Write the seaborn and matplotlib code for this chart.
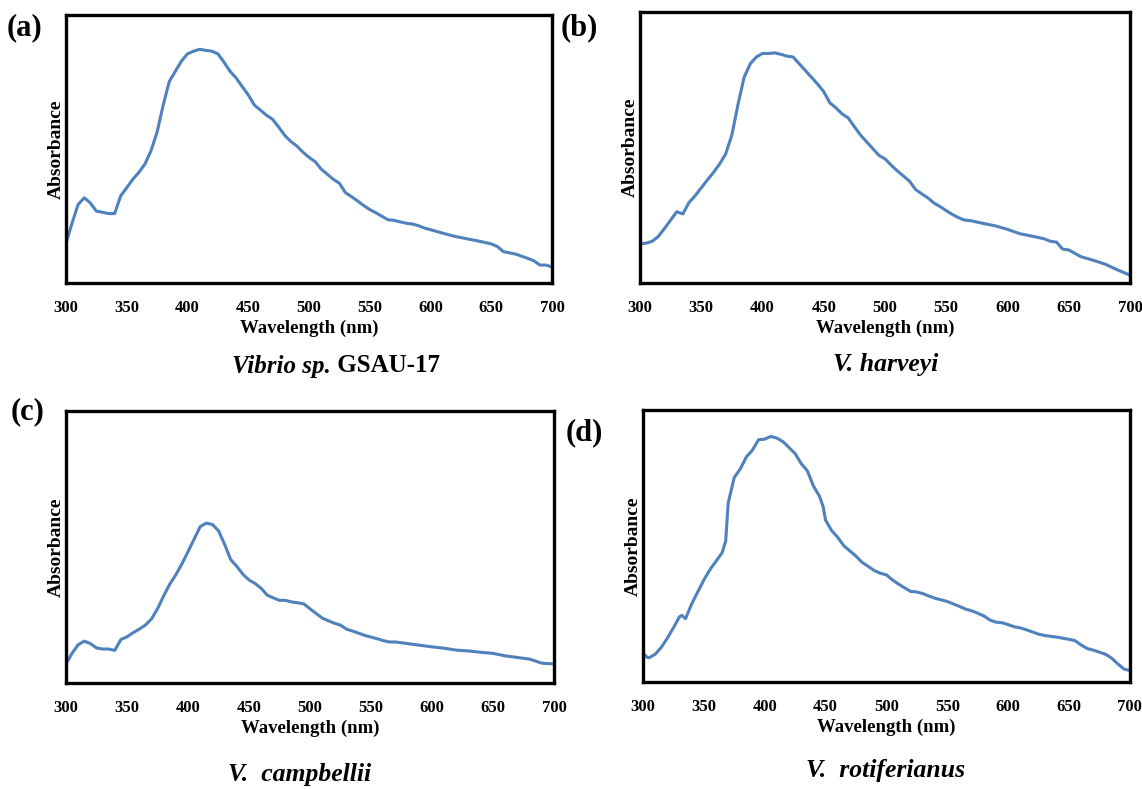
import numpy as np
import pandas as pd
import matplotlib
matplotlib.use("Agg")
import matplotlib.pyplot as plt
import seaborn as sns

# wavelengths (nm) and relative absorbance
wl_a = [300, 305, 310, 315, 320, 325, 330, 335, 340, 345, 350, 355, 360, 365, 370, 375, 380, 385, 390, 395,
        400, 405, 410, 415, 420, 425, 430, 435, 440, 445, 450, 455, 460, 465, 470, 475, 480, 485, 490, 495,
        500, 505, 510, 515, 520, 525, 530, 535, 540, 545, 550, 555, 560, 565, 570, 575, 580, 585, 590, 595,
        600, 610, 620, 630, 640, 650, 655, 660, 670, 680, 685, 690, 695, 700]
abs_a = [0.148, 0.224, 0.293, 0.318, 0.299, 0.268, 0.264, 0.259, 0.259, 0.325, 0.356, 0.387, 0.413, 0.444,
         0.494, 0.564, 0.664, 0.752, 0.790, 0.828, 0.855, 0.865, 0.872, 0.868, 0.865, 0.855, 0.824, 0.790,
         0.765, 0.733, 0.702, 0.664, 0.645, 0.626, 0.611, 0.582, 0.551, 0.528, 0.511, 0.488, 0.469, 0.453,
         0.425, 0.406, 0.387, 0.372, 0.337, 0.322, 0.306, 0.289, 0.274, 0.262, 0.249, 0.236, 0.234, 0.228,
         0.223, 0.220, 0.214, 0.205, 0.199, 0.186, 0.174, 0.165, 0.156, 0.146, 0.136, 0.117, 0.108, 0.092,
         0.083, 0.067, 0.067, 0.060]

wl_b = [300, 305, 310, 315, 320, 325, 330, 335, 340, 345, 350, 355, 360, 365, 370, 375, 380, 385, 390, 395,
        400, 405, 410, 415, 420, 425, 430, 435, 440, 445, 450, 455, 460, 465, 470, 475, 480, 485, 490, 495,
        500, 505, 510, 515, 520, 525, 530, 535, 540, 545, 550, 555, 560, 565, 570, 580, 590, 600, 610, 620,
        630, 635, 640, 645, 650, 660, 670, 680, 690, 700]
abs_b = [0.144, 0.147, 0.154, 0.172, 0.201, 0.232, 0.263, 0.255, 0.297, 0.322, 0.351, 0.380, 0.408, 0.439,
         0.477, 0.546, 0.659, 0.759, 0.809, 0.834, 0.847, 0.847, 0.849, 0.844, 0.837, 0.834, 0.809, 0.784,
         0.759, 0.734, 0.706, 0.665, 0.646, 0.624, 0.609, 0.577, 0.546, 0.521, 0.496, 0.471, 0.458, 0.435,
         0.414, 0.395, 0.376, 0.345, 0.329, 0.314, 0.295, 0.282, 0.267, 0.253, 0.241, 0.232, 0.230, 0.220,
         0.211, 0.198, 0.182, 0.173, 0.163, 0.154, 0.151, 0.125, 0.122, 0.097, 0.084, 0.069, 0.048, 0.029]

wl_c = [300, 305, 310, 315, 320, 325, 330, 335, 340, 345, 350, 355, 360, 365, 370, 375, 380, 385, 390, 395,
        400, 405, 410, 415, 420, 425, 430, 435, 440, 445, 450, 455, 460, 465, 470, 475, 480, 485, 490, 495,
        500, 505, 510, 515, 520, 525, 530, 535, 540, 545, 550, 555, 560, 565, 570, 580, 590, 600, 610, 620,
        630, 640, 650, 660, 670, 680, 690, 700]
abs_c = [0.070, 0.110, 0.141, 0.154, 0.145, 0.129, 0.125, 0.125, 0.120, 0.160, 0.170, 0.185, 0.198, 0.213,
         0.235, 0.273, 0.320, 0.363, 0.398, 0.438, 0.483, 0.529, 0.575, 0.588, 0.583, 0.560, 0.510, 0.454,
         0.429, 0.400, 0.379, 0.366, 0.348, 0.323, 0.313, 0.304, 0.304, 0.298, 0.295, 0.291, 0.273, 0.256,
         0.239, 0.229, 0.220, 0.213, 0.198, 0.191, 0.183, 0.175, 0.169, 0.163, 0.156, 0.151, 0.151, 0.145,
         0.139, 0.133, 0.128, 0.121, 0.118, 0.113, 0.109, 0.100, 0.094, 0.088, 0.073, 0.070]

wl_d = [300, 303, 305, 310, 315, 320, 325, 330, 332, 335, 340, 345, 350, 355, 360, 365, 368, 370, 375, 380,
        385, 390, 395, 400, 405, 410, 415, 420, 425, 430, 435, 440, 445, 448, 450, 455, 460, 465, 470, 475,
        480, 485, 490, 495, 500, 505, 510, 515, 520, 525, 530, 535, 540, 545, 550, 555, 560, 565, 570, 575,
        580, 585, 590, 595, 600, 605, 610, 615, 620, 625, 630, 640, 650, 655, 660, 665, 670, 680, 685, 690,
        695, 700]
abs_d = [0.107, 0.092, 0.089, 0.102, 0.127, 0.161, 0.199, 0.240, 0.245, 0.233, 0.287, 0.331, 0.375, 0.413,
         0.444, 0.475, 0.519, 0.658, 0.752, 0.784, 0.828, 0.853, 0.891, 0.893, 0.903, 0.897, 0.884, 0.862,
         0.840, 0.803, 0.777, 0.721, 0.683, 0.645, 0.595, 0.557, 0.532, 0.501, 0.482, 0.463, 0.440, 0.425,
         0.410, 0.400, 0.394, 0.375, 0.360, 0.346, 0.333, 0.331, 0.325, 0.316, 0.308, 0.302, 0.296, 0.287,
         0.278, 0.268, 0.262, 0.253, 0.243, 0.228, 0.220, 0.218, 0.211, 0.203, 0.199, 0.192, 0.184, 0.176,
         0.171, 0.165, 0.157, 0.152, 0.136, 0.123, 0.117, 0.102, 0.088, 0.067, 0.048, 0.042]

panel_tags = ["(a)", "(b)", "(c)", "(d)"]
x_ticks = [300, 350, 400, 450, 500, 550, 600, 650, 700]

sns.set_style("white")
plt.rcParams["font.family"] = ["Liberation Serif", "DejaVu Serif"]
plt.rcParams["font.weight"] = "bold"
plt.rcParams["text.color"] = "black"
plt.rcParams["axes.labelcolor"] = "black"
plt.rcParams["xtick.labelcolor"] = "black"

fig = plt.figure(figsize=(11.42, 7.89), dpi=100)

# axes boxes [left, bottom, width, height] in figure fraction
boxes = [
    [0.0578, 0.6413, 0.4256, 0.3397],
    [0.5604, 0.6413, 0.4291, 0.3435],
    [0.0578, 0.1343, 0.4273, 0.3447],
    [0.5630, 0.1356, 0.4264, 0.3447],
]
series = [(wl_a, abs_a), (wl_b, abs_b), (wl_c, abs_c), (wl_d, abs_d)]
line_color = "#4F81BD"

axes = []
for box, (wl, ab) in zip(boxes, series):
    ax = fig.add_axes(box)
    df = pd.DataFrame({"Wavelength": wl, "Absorbance": ab})
    sns.lineplot(data=df, x="Wavelength", y="Absorbance", ax=ax, color=line_color, linewidth=2.2)
    ax.set_xlim(300, 700)
    ax.set_ylim(0, 1)
    ax.set_xticks(x_ticks)
    ax.set_yticks([])
    ax.tick_params(axis="x", direction="out", length=3, width=0.8, color="#888888",
                   labelsize=12, pad=9)
    for lab in ax.get_xticklabels():
        lab.set_fontweight("bold")
    ax.set_xlabel("Wavelength (nm)", fontsize=13.5, fontweight="bold", labelpad=3)
    ax.set_ylabel("Absorbance", fontsize=14, fontweight="bold", labelpad=1)
    for sp in ax.spines.values():
        sp.set_visible(True)
        sp.set_color("black")
        sp.set_linewidth(2.4)
    axes.append(ax)

# panel tags
tag_pos = [(7, 28), (561, 28), (11, 412), (566, 433)]
for tag, (px, py) in zip(panel_tags, tag_pos):
    fig.text(px / 1142, 1 - py / 789, tag, fontsize=22, fontweight="bold", ha="left", va="center")

# captions
t1 = fig.text(232 / 1142, 1 - 366 / 789, "Vibrio sp.", fontsize=18, fontweight="bold",
              style="italic", ha="left", va="center")
axes[0].annotate(" GSAU-17", xy=(1, 0.5), xycoords=t1, fontsize=18, fontweight="bold",
                 ha="left", va="center", annotation_clip=False)
fig.text(886 / 1142, 1 - 364 / 789, "V. harveyi", fontsize=18.5, fontweight="bold",
         style="italic", ha="center", va="center")
fig.text(300 / 1142, 1 - 774 / 789, "V.  campbellii", fontsize=18.5, fontweight="bold",
         style="italic", ha="center", va="center")
fig.text(886 / 1142, 1 - 770 / 789, "V.  rotiferianus", fontsize=18.5, fontweight="bold",
         style="italic", ha="center", va="center")

fig.savefig("out.png", dpi=100)
